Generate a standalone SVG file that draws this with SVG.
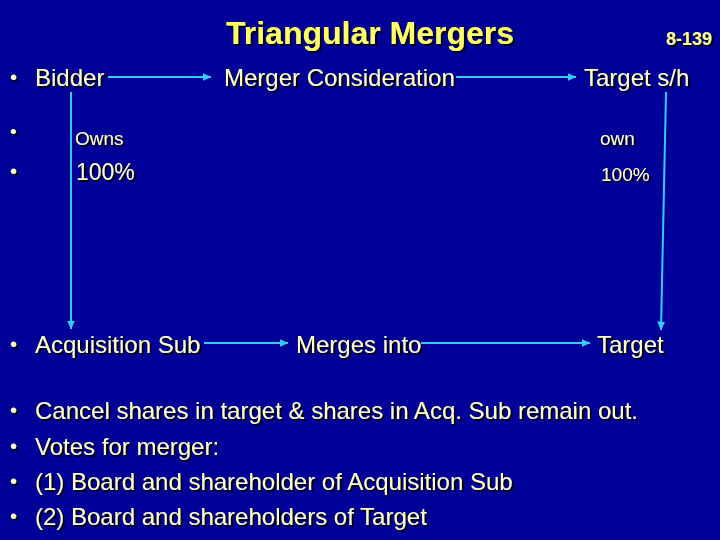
<svg xmlns="http://www.w3.org/2000/svg" width="720" height="540" viewBox="0 0 720 540">
<defs>
<marker id="ah" markerWidth="9" markerHeight="8" refX="8.5" refY="4" orient="auto" markerUnits="userSpaceOnUse">
<path d="M0,0 L9,4 L0,8 Z" fill="#33CCFF"/>
</marker>
<filter id="sh" x="-5%" y="-20%" width="110%" height="140%">
<feDropShadow dx="2" dy="2" stdDeviation="0.5" flood-color="#000000" flood-opacity="0.9"/>
</filter>
</defs>
<style>
text{font-family:"Liberation Sans",Arial,sans-serif;fill:#FFFFCC}
.t{font-size:32px;font-weight:bold;fill:#FFFF66}
.n{font-size:18px;font-weight:bold;fill:#FFFF99}
.b{font-size:24px}
.d{font-size:20px}
.s{font-size:19px}
.m{font-size:23px}
.c{stroke:#33CCFF;stroke-width:2;fill:none}
</style>
<rect width="720" height="540" fill="#000099"/>
<g id="title" filter="url(#sh)">
<text class="t" x="370" y="44" text-anchor="middle">Triangular Mergers</text>
<text class="n" x="712" y="45" text-anchor="end">8-139</text>
</g>
<g id="bullets" filter="url(#sh)">
<text class="d" x="10" y="84">•</text>
<text class="s" x="10" y="138">•</text>
<text class="d" x="10" y="178">•</text>
<text class="d" x="10" y="351">•</text>
<text class="d" x="10" y="417">•</text>
<text class="d" x="10" y="453">•</text>
<text class="d" x="10" y="488">•</text>
<text class="d" x="10" y="523">•</text>
</g>
<g id="bidder" filter="url(#sh)"><text class="b" x="35" y="86">Bidder</text></g>
<g id="merger-consideration" filter="url(#sh)"><text class="b" x="224" y="86">Merger Consideration</text></g>
<g id="target-sh" filter="url(#sh)"><text class="b" x="584" y="86">Target s/h</text></g>
<g id="owns" filter="url(#sh)"><text class="s" x="75" y="145">Owns</text><text class="m" x="76" y="180">100%</text></g>
<g id="own" filter="url(#sh)"><text class="s" x="600" y="145">own</text><text class="s" x="601" y="181">100%</text></g>
<g id="acq-sub" filter="url(#sh)"><text class="b" x="35" y="353">Acquisition Sub</text></g>
<g id="merges-into" filter="url(#sh)"><text class="b" x="296" y="353">Merges into</text></g>
<g id="target" filter="url(#sh)"><text class="b" x="597" y="353">Target</text></g>
<g id="notes" filter="url(#sh)">
<text class="b" x="35" y="419">Cancel shares in target &amp; shares in Acq. Sub remain out.</text>
<text class="b" x="35" y="455">Votes for merger:</text>
<text class="b" x="35" y="490">(1) Board and shareholder of Acquisition Sub</text>
<text class="b" x="35" y="525">(2) Board and shareholders of Target</text>
</g>
<g id="connectors">
<line class="c" x1="108" y1="77" x2="211" y2="77" marker-end="url(#ah)"/>
<line class="c" x1="456" y1="77" x2="576" y2="77" marker-end="url(#ah)"/>
<line class="c" x1="71" y1="92" x2="71" y2="329" marker-end="url(#ah)"/>
<line class="c" x1="666" y1="92" x2="661" y2="330" marker-end="url(#ah)"/>
<line class="c" x1="204" y1="343" x2="288" y2="343" marker-end="url(#ah)"/>
<line class="c" x1="421" y1="343" x2="590" y2="343" marker-end="url(#ah)"/>
</g>
</svg>
